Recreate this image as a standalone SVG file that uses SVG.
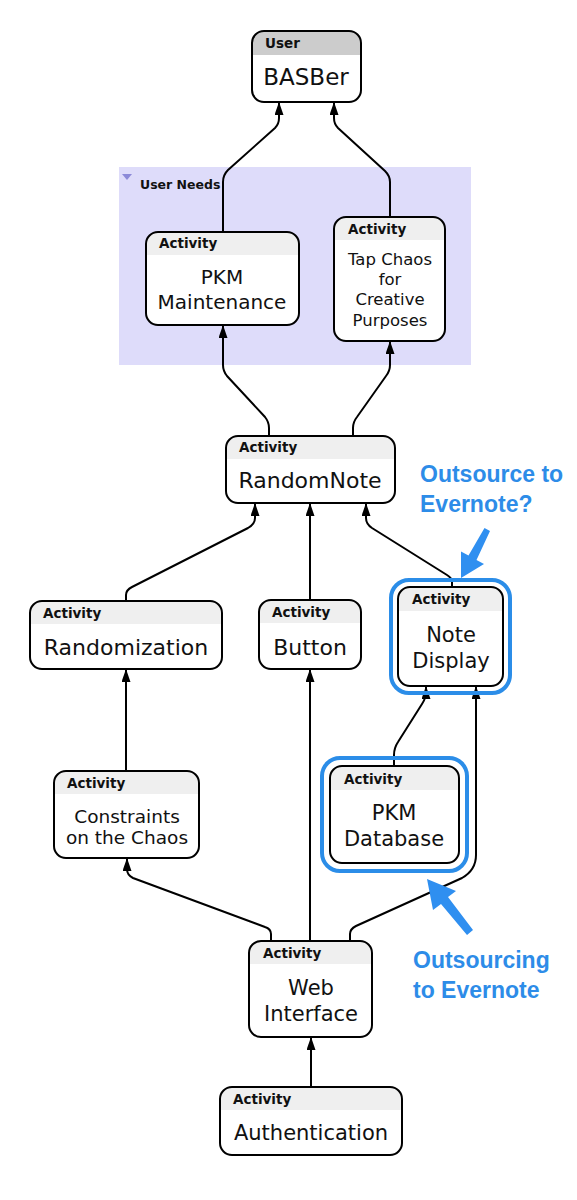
<svg xmlns="http://www.w3.org/2000/svg" width="577" height="1200" viewBox="0 0 577 1200">
<defs>
<style>
.box{fill:#fff;stroke:none}
.hdr{fill:#efefef}
.hdr2{fill:#cccccc}
.out{fill:none;stroke:#000;stroke-width:2}
.ring{fill:none;stroke:#2b8de8;stroke-width:4}
.cap{font-family:"DejaVu Sans",sans-serif;font-weight:bold;font-size:13.5px;fill:#111}
.lbl{font-family:"DejaVu Sans",sans-serif;fill:#111;text-anchor:middle}
.conn path{fill:none;stroke:#000;stroke-width:2;marker-end:url(#ah)}
.note{font-family:"Liberation Sans",Arial,sans-serif;font-weight:bold;font-size:23px;fill:#2d8ce8;stroke:#fff;stroke-width:0.6;paint-order:stroke}
.barrow{fill:#2f8ff0}
</style>
<marker id="ah" viewBox="0 0 13 9" refX="12" refY="4.5" markerWidth="6.5" markerHeight="4.5" orient="auto" markerUnits="strokeWidth">
<path d="M0,0 L13,4.5 L0,9 Z" fill="#000"/>
</marker>
</defs>
<rect width="577" height="1200" fill="#fff"/>

<g id="user-needs">
<rect x="119" y="167" width="352" height="198" fill="#dedcfa"/>
<polygon points="122,174 132,174 127,180" fill="#8c8ad8"/>
<text x="140" y="189" class="cap" style="font-size:12.5px">User Needs</text>
</g>

<g class="conn" id="connectors">
<path d="M223,232 V182 Q223,175 228,170 L275,128 Q279,124 279,118 V103"/>
<path d="M390,217 V182 Q390,176 385,171 L338,128 Q334,124 334,118 V103"/>
<path d="M269,436 V428 Q269,422 265,417 L227,376 Q223,371 223,365 V326"/>
<path d="M353,436 V428 Q353,422 357,417 L386,376 Q390,371 390,365 V342"/>
<path d="M126,601 V595 Q126,590 132,587 L248,528 Q255,524 255,518 V504"/>
<path d="M310,600 V504"/>
<path d="M452,587 V582 Q452,578 447,575 L372,528 Q366,524 366,518 V504"/>
<path d="M126,771 V670"/>
<path d="M394,766 V755 Q394,748 398,742 L422,704 Q426,698 426,692 V687"/>
<path d="M271,941 V934 Q271,929 265,927 L133,878 Q127,875 127,869 V859"/>
<path d="M310,941 V670"/>
<path d="M350,941 V934 Q350,929 356,926 L462,878 Q476,870 476,855 V687"/>
<path d="M311,1087 V1038"/>
</g>

<g id="basber">
<rect class="box" x="252" y="31" width="109" height="71" rx="12"/>
<path class="hdr2" d="M252,55 V43 A12,12 0 0 1 264,31 H349 A12,12 0 0 1 361,43 V55 Z"/>
<rect class="out" x="252" y="31" width="109" height="71" rx="12"/>
<text class="cap" x="265" y="48">User</text>
<text class="lbl" x="306" y="85" font-size="23">BASBer</text>
</g>

<g id="pkm-maintenance">
<rect class="box" x="146" y="232" width="153" height="93" rx="12"/>
<path class="hdr" d="M146,255 V244 A12,12 0 0 1 158,232 H287 A12,12 0 0 1 299,244 V255 Z"/>
<rect class="out" x="146" y="232" width="153" height="93" rx="12"/>
<text class="cap" x="159" y="248">Activity</text>
<text class="lbl" x="222" y="284" font-size="20">PKM</text>
<text class="lbl" x="222" y="309" font-size="20">Maintenance</text>
</g>

<g id="tap-chaos">
<rect class="box" x="334" y="217" width="111" height="124" rx="12"/>
<path class="hdr" d="M334,240 V229 A12,12 0 0 1 346,217 H433 A12,12 0 0 1 445,229 V240 Z"/>
<rect class="out" x="334" y="217" width="111" height="124" rx="12"/>
<text class="cap" x="348" y="234">Activity</text>
<text class="lbl" x="390" y="265" font-size="16.5">Tap Chaos</text>
<text class="lbl" x="390" y="285" font-size="16.5">for</text>
<text class="lbl" x="390" y="305" font-size="16.5">Creative</text>
<text class="lbl" x="390" y="326" font-size="16.5">Purposes</text>
</g>

<g id="randomnote">
<rect class="box" x="226" y="436" width="169" height="67" rx="12"/>
<path class="hdr" d="M226,459 V448 A12,12 0 0 1 238,436 H383 A12,12 0 0 1 395,448 V459 Z"/>
<rect class="out" x="226" y="436" width="169" height="67" rx="12"/>
<text class="cap" x="239" y="452">Activity</text>
<text class="lbl" x="310" y="488" font-size="22">RandomNote</text>
</g>

<g id="randomization">
<rect class="box" x="30" y="601" width="192" height="68" rx="12"/>
<path class="hdr" d="M30,624 V613 A12,12 0 0 1 42,601 H210 A12,12 0 0 1 222,613 V624 Z"/>
<rect class="out" x="30" y="601" width="192" height="68" rx="12"/>
<text class="cap" x="43" y="618">Activity</text>
<text class="lbl" x="126" y="655" font-size="22">Randomization</text>
</g>

<g id="button">
<rect class="box" x="259" y="600" width="102" height="69" rx="12"/>
<path class="hdr" d="M259,623 V612 A12,12 0 0 1 271,600 H349 A12,12 0 0 1 361,612 V623 Z"/>
<rect class="out" x="259" y="600" width="102" height="69" rx="12"/>
<text class="cap" x="272" y="617">Activity</text>
<text class="lbl" x="310" y="655" font-size="22">Button</text>
</g>

<g id="note-display">
<rect class="ring" x="391" y="580" width="119" height="113" rx="18"/>
<rect class="box" x="398" y="587" width="105" height="99" rx="12"/>
<path class="hdr" d="M398,611 V599 A12,12 0 0 1 410,587 H491 A12,12 0 0 1 503,599 V611 Z"/>
<rect class="out" x="398" y="587" width="105" height="99" rx="12"/>
<text class="cap" x="412" y="604">Activity</text>
<text class="lbl" x="451" y="642" font-size="21">Note</text>
<text class="lbl" x="451" y="668" font-size="21">Display</text>
</g>

<g id="constraints">
<rect class="box" x="54" y="771" width="145" height="87" rx="12"/>
<path class="hdr" d="M54,794 V783 A12,12 0 0 1 66,771 H187 A12,12 0 0 1 199,783 V794 Z"/>
<rect class="out" x="54" y="771" width="145" height="87" rx="12"/>
<text class="cap" x="67" y="788">Activity</text>
<text class="lbl" x="127" y="823" font-size="18.5">Constraints</text>
<text class="lbl" x="127" y="844" font-size="18.5">on the Chaos</text>
</g>

<g id="pkm-database">
<rect class="ring" x="322" y="758" width="145" height="113" rx="18"/>
<rect class="box" x="330" y="766" width="129" height="97" rx="12"/>
<path class="hdr" d="M330,790 V778 A12,12 0 0 1 342,766 H447 A12,12 0 0 1 459,778 V790 Z"/>
<rect class="out" x="330" y="766" width="129" height="97" rx="12"/>
<text class="cap" x="344" y="784">Activity</text>
<text class="lbl" x="394" y="820" font-size="21">PKM</text>
<text class="lbl" x="394" y="846" font-size="21">Database</text>
</g>

<g id="web-interface">
<rect class="box" x="249" y="941" width="123" height="96" rx="12"/>
<path class="hdr" d="M249,964 V953 A12,12 0 0 1 261,941 H360 A12,12 0 0 1 372,953 V964 Z"/>
<rect class="out" x="249" y="941" width="123" height="96" rx="12"/>
<text class="cap" x="263" y="958">Activity</text>
<text class="lbl" x="311" y="995" font-size="21">Web</text>
<text class="lbl" x="311" y="1021" font-size="21">Interface</text>
</g>

<g id="authentication">
<rect class="box" x="220" y="1087" width="182" height="68" rx="12"/>
<path class="hdr" d="M220,1110 V1099 A12,12 0 0 1 232,1087 H390 A12,12 0 0 1 402,1099 V1110 Z"/>
<rect class="out" x="220" y="1087" width="182" height="68" rx="12"/>
<text class="cap" x="233" y="1104">Activity</text>
<text class="lbl" x="311" y="1140" font-size="21">Authentication</text>
</g>

<g id="annotation-outsource">
<text class="note" x="420" y="482">Outsource to</text>
<text class="note" x="420" y="512">Evernote?</text>
<polygon class="barrow" points="490,531 476.5,560 484,564 461,578 461,551.5 468.5,555.5 484.5,528"/>
</g>

<g id="annotation-outsourcing">
<text class="note" x="413" y="968">Outsourcing</text>
<text class="note" x="413" y="998">to Evernote</text>
<polygon class="barrow" points="473,930 448,897 456,891 427,879 433,910 441,904 467,935"/>
</g>
</svg>
